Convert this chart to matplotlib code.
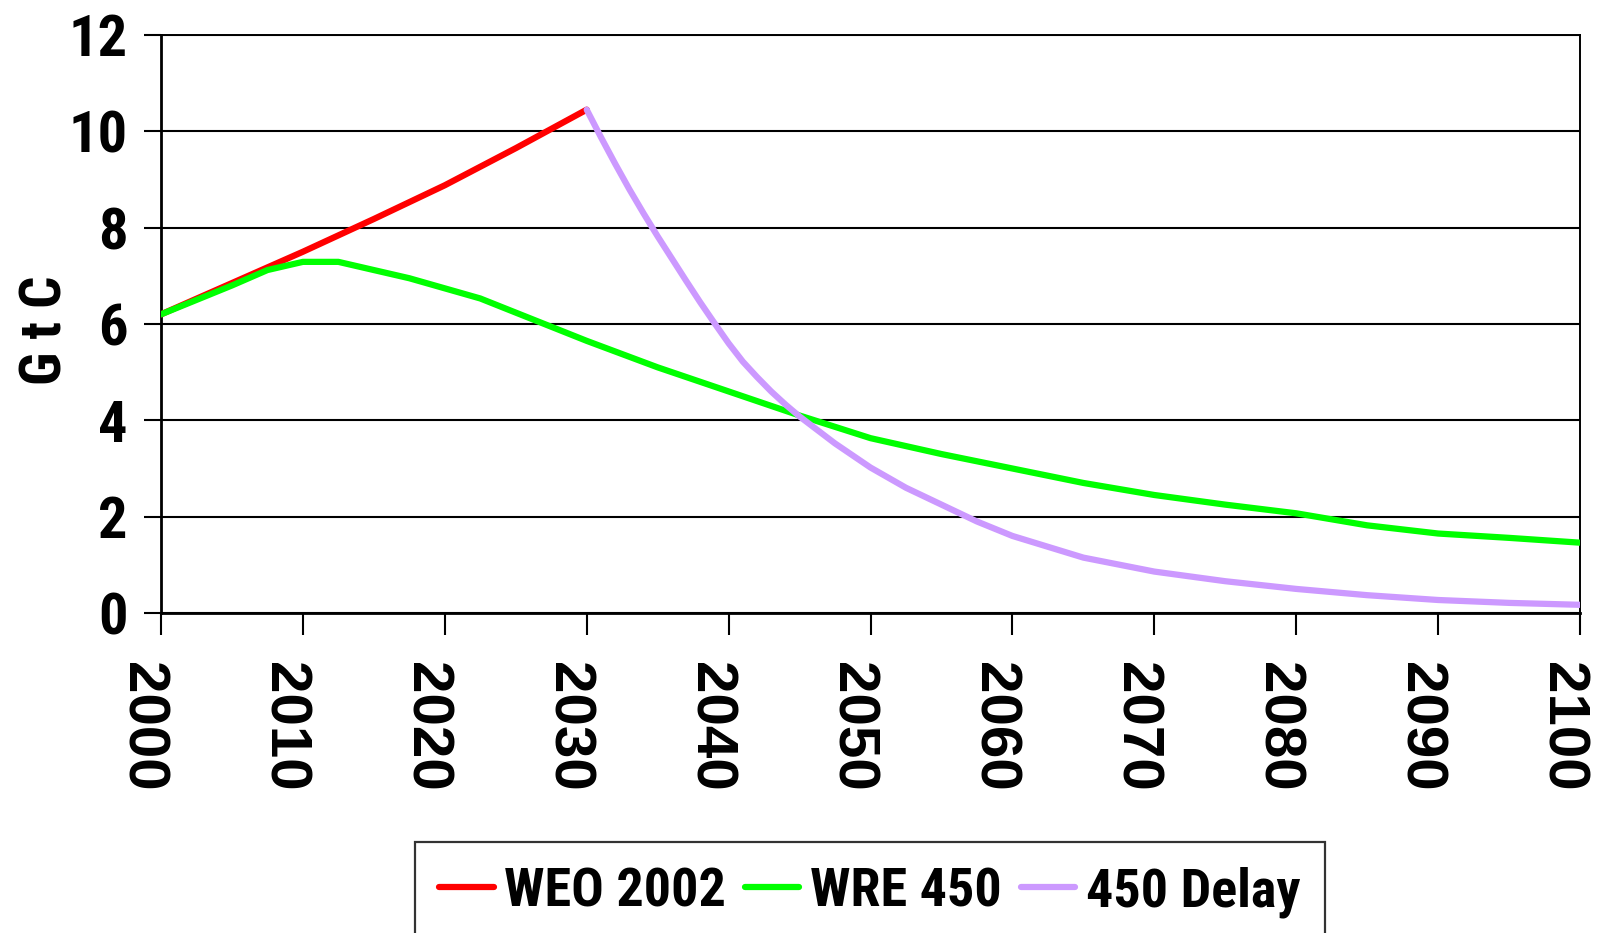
import matplotlib
matplotlib.use("Agg")
import matplotlib.pyplot as plt
from matplotlib.transforms import ScaledTranslation

# data (GtC per year)
weo_years = [2000, 2005, 2010, 2015, 2020, 2025, 2030]
weo_vals = [6.2, 6.85, 7.5, 8.18, 8.88, 9.65, 10.45]

wre_years = [2000, 2002.5, 2005, 2007.5, 2010, 2012.5, 2017.5, 2022.5, 2030, 2035,
             2040, 2045, 2050, 2055, 2060, 2065, 2070, 2075, 2080, 2085, 2090, 2095, 2100]
wre_vals = [6.2, 6.5, 6.8, 7.12, 7.29, 7.29, 6.95, 6.53, 5.65, 5.1,
            4.6, 4.1, 3.63, 3.3, 3.0, 2.7, 2.45, 2.25, 2.07, 1.82, 1.65, 1.56, 1.46]

delay_years = [2030, 2031, 2032, 2033, 2034, 2035, 2036, 2037, 2038, 2039, 2040,
               2041, 2042, 2043, 2044, 2045, 2047.5, 2050, 2052.5, 2055, 2057.5,
               2060, 2065, 2070, 2075, 2080, 2085, 2090, 2095, 2100]
delay_vals = [10.45, 9.88, 9.33, 8.8, 8.3, 7.82, 7.36, 6.9, 6.45, 6.02, 5.6,
              5.22, 4.9, 4.6, 4.33, 4.08, 3.52, 3.02, 2.6, 2.25, 1.9,
              1.6, 1.15, 0.86, 0.66, 0.5, 0.37, 0.27, 0.21, 0.17]

labels = ["WEO 2002", "WRE 450", "450 Delay"]
colors = ["#ff0000", "#00ff00", "#cc99ff"]

x_ticks = list(range(2000, 2101, 10))
y_ticks = list(range(0, 13, 2))

narrow = ["Roboto Condensed", "DejaVu Sans"]
wide = ["Liberation Sans", "DejaVu Sans"]

fig = plt.figure(figsize=(16.06, 9.33), dpi=100)
ax = fig.add_axes([161 / 1606, 1 - 613 / 933, (1580 - 161) / 1606, (613 - 35) / 933])

series = [(weo_years, weo_vals), (wre_years, wre_vals), (delay_years, delay_vals)]
for (xs, ys), lab, col in zip(series, labels, colors):
    ax.plot(xs, ys, color=col, lw=4.5, label=lab, solid_capstyle="round",
            solid_joinstyle="round", zorder=3)

ax.set_xlim(2000, 2100)
ax.set_ylim(0, 12)
ax.set_xticks(x_ticks)
ax.set_yticks(y_ticks)
ax.yaxis.grid(True, color="black", lw=1.5)
ax.set_axisbelow(True)

for side in ["left", "bottom"]:
    ax.spines[side].set_linewidth(2.0)
for side in ["top", "right"]:
    ax.spines[side].set_linewidth(1.4)

ax.tick_params(axis="y", direction="out", length=12, width=1.5, pad=12)
ax.tick_params(axis="x", direction="out", length=16, width=1.5, pad=19)

for t in ax.get_yticklabels():
    t.set_fontfamily(narrow)
    t.set_fontweight("bold")
    t.set_fontsize(42)

# x labels sit a little left of their ticks in the original
shift_left = ScaledTranslation(-19 / 100, 0, fig.dpi_scale_trans)
for t in ax.get_xticklabels():
    t.set_fontfamily(wide)
    t.set_fontweight("bold")
    t.set_fontsize(42)
    t.set_rotation(-90)
    t.set_va("top")
    t.set_ha("center")
    t.set_transform(t.get_transform() + shift_left)

fig.text(46 / 1606, 1 - 330 / 933, "G t C", rotation=90, ha="center", va="center",
         fontsize=41, fontweight="bold", family=narrow)

leg = fig.legend(loc="upper left", bbox_to_anchor=(415 / 1606, 1 - 842 / 933),
                 ncol=3, frameon=True, fancybox=False, handlelength=1.0,
                 handletextpad=0.2, columnspacing=0.35, borderpad=0.45,
                 borderaxespad=0,
                 prop={"family": narrow, "weight": "bold", "size": 39})
leg.get_frame().set_edgecolor("black")
leg.get_frame().set_linewidth(1.6)

fig.savefig("out.png", dpi=100)
